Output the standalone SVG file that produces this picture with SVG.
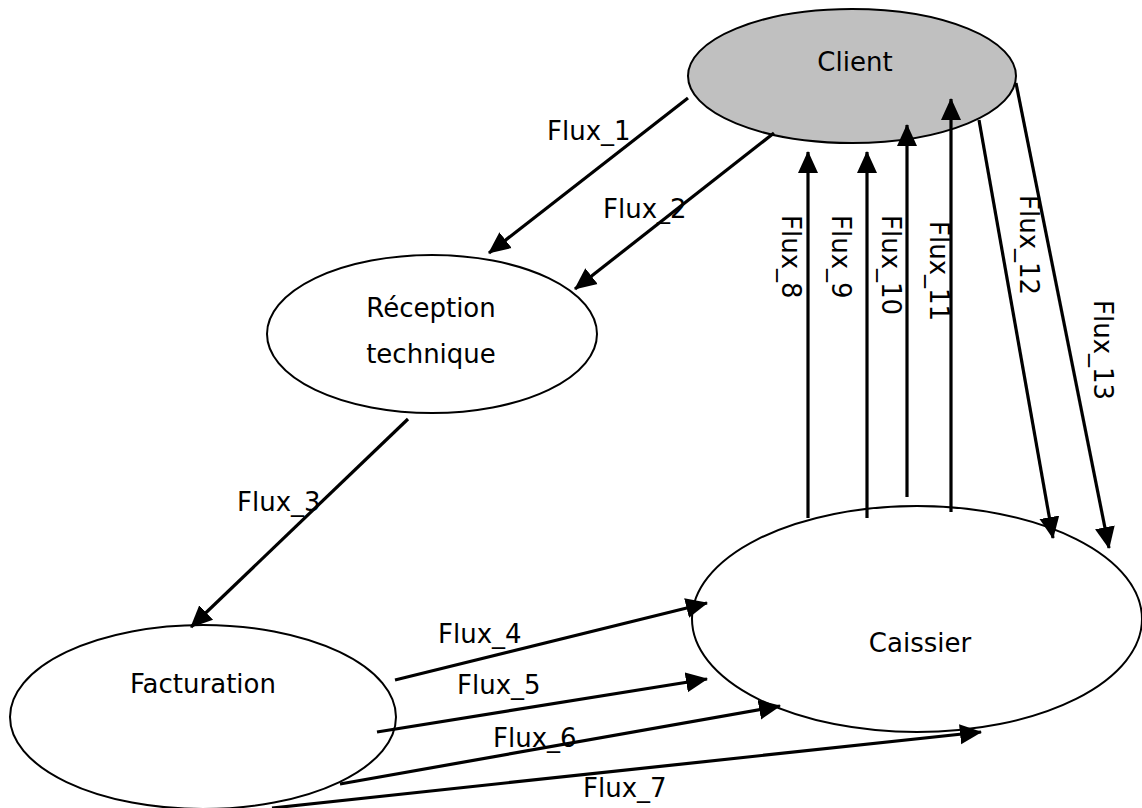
<svg xmlns="http://www.w3.org/2000/svg" width="1142" height="808" viewBox="0 0 1142 808">
  <style>
    .node { fill: #ffffff; stroke: #000000; stroke-width: 2; }
    .node.actor { fill: #c0c0c0; }
    .label { font-family: "DejaVu Sans", "Liberation Sans", sans-serif; font-size: 26px; fill: #000000; }
    .mid { text-anchor: middle; }
    .flow { stroke: #000000; stroke-width: 3.2; fill: none; marker-end: url(#arrow); }
  </style>
  <defs>
    <!-- solid triangular head, sized in user units so every flow gets the same head -->
    <marker id="arrow" markerUnits="userSpaceOnUse" markerWidth="24" markerHeight="22" refX="21" refY="11" orient="auto">
      <path d="M0,1 L22,11 L0,21 Z" fill="#000000"/>
    </marker>
  </defs>

  <rect width="1142" height="808" fill="#ffffff"/>

  <g id="node-client">
    <ellipse class="node actor" cx="852" cy="76" rx="164" ry="67"/>
    <text class="label mid" x="855" y="71">Client</text>
  </g>

  <g id="node-reception">
    <ellipse class="node" cx="432" cy="334" rx="165" ry="79"/>
    <text class="label mid" x="431" y="317">Réception</text>
    <text class="label mid" x="431" y="363">technique</text>
  </g>

  <g id="node-facturation">
    <ellipse class="node" cx="203" cy="717" rx="193" ry="92"/>
    <text class="label mid" x="203" y="693">Facturation</text>
  </g>

  <g id="node-caissier">
    <ellipse class="node" cx="917" cy="619" rx="225" ry="113"/>
    <text class="label mid" x="920" y="652">Caissier</text>
  </g>

  <g id="connectors">
    <line class="flow" x1="688" y1="98" x2="489" y2="253"/>
    <line class="flow" x1="774" y1="133" x2="575" y2="289"/>
    <line class="flow" x1="408" y1="419" x2="191" y2="627"/>
    <line class="flow" x1="395" y1="680" x2="707" y2="603"/>
    <line class="flow" x1="377" y1="732" x2="707" y2="679"/>
    <line class="flow" x1="340" y1="784" x2="780" y2="706"/>
    <line class="flow" x1="272" y1="808" x2="981" y2="732"/>
    <line class="flow" x1="808" y1="518" x2="808" y2="152"/>
    <line class="flow" x1="867" y1="518" x2="867" y2="152"/>
    <line class="flow" x1="907" y1="497" x2="907" y2="125"/>
    <line class="flow" x1="951" y1="512" x2="951" y2="99"/>
    <line class="flow" x1="979" y1="120" x2="1053" y2="538"/>
    <line class="flow" x1="1016" y1="83" x2="1109" y2="548"/>

    <text class="label" x="547" y="140">Flux_1</text>
    <text class="label" x="603" y="218">Flux_2</text>
    <text class="label" x="237" y="511">Flux_3</text>
    <text class="label" x="438" y="643">Flux_4</text>
    <text class="label" x="457" y="694">Flux_5</text>
    <text class="label" x="493" y="747">Flux_6</text>
    <text class="label" x="583" y="797">Flux_7</text>
    <text class="label" transform="translate(782,215) rotate(90)">Flux_8</text>
    <text class="label" transform="translate(832,215) rotate(90)">Flux_9</text>
    <text class="label" transform="translate(882,215) rotate(90)">Flux_10</text>
    <text class="label" transform="translate(930,221) rotate(90)">Flux_11</text>
    <text class="label" transform="translate(1020,195) rotate(90)">Flux_12</text>
    <text class="label" transform="translate(1094,300) rotate(90)">Flux_13</text>
  </g>
</svg>
